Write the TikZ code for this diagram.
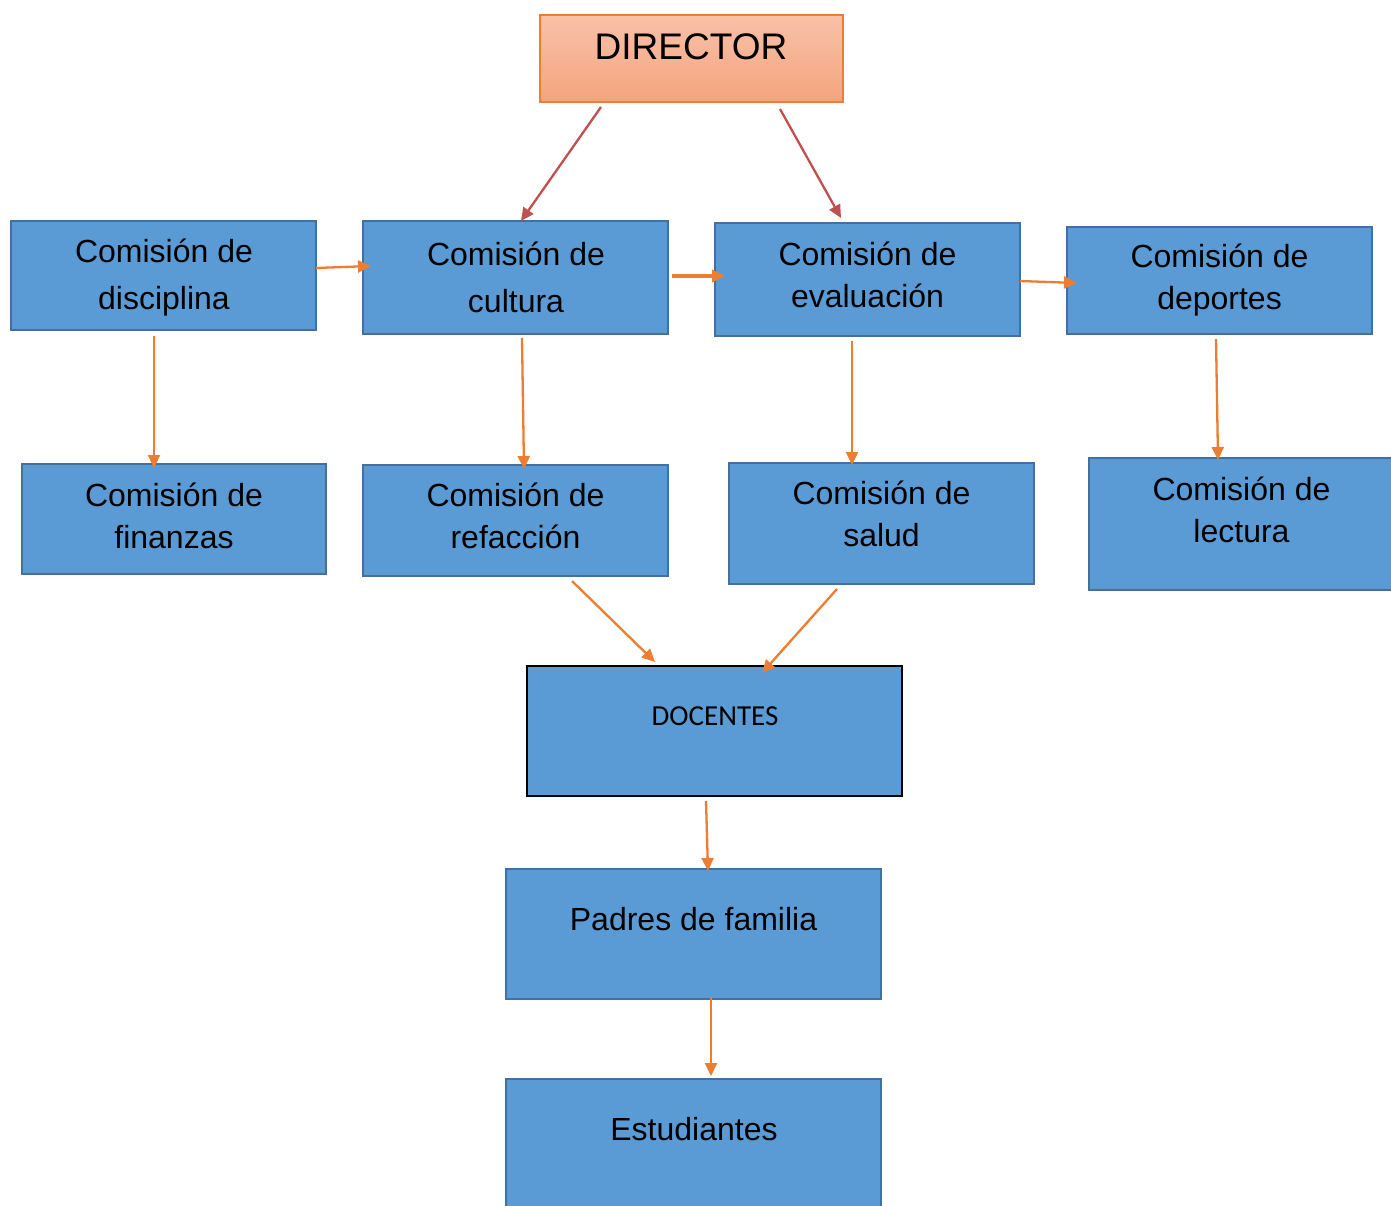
\documentclass[tikz,border=0pt]{standalone}
\usepackage{fontspec}
\setmainfont{Liberation Sans}
\newfontfamily\calib{Carlito}
\usetikzlibrary{arrows.meta,calc}
\definecolor{boxfill}{HTML}{5B9BD5}
\definecolor{boxline}{HTML}{41719C}
\definecolor{orangeln}{HTML}{ED7D31}
\definecolor{redln}{HTML}{C0504D}
\definecolor{dirtop}{HTML}{F8C1A9}
\definecolor{dirbot}{HTML}{F4A47D}
\begin{document}
\begin{tikzpicture}[x=1pt,y=-1pt,
  box/.style={draw=boxline, line width=2.2pt, fill=boxfill, inner sep=0pt, outer sep=0pt},
  dirbox/.style={draw=orangeln, line width=1.2pt, top color=dirtop, bottom color=dirbot, inner sep=0pt, outer sep=0pt},
  docbox/.style={draw=black, line width=2.5pt, fill=boxfill, inner sep=0pt, outer sep=0pt},
  txtA/.style={align=center, inner sep=0pt, font=\fontsize{32}{47}\selectfont},
  txtB/.style={align=center, inner sep=0pt, font=\fontsize{32}{42}\selectfont},
  arr/.style={draw=orangeln, line width=2.3pt, -{Triangle[length=13pt,width=12pt]}},
  arrthick/.style={arr, line width=3.4pt},
  redarr/.style={draw=redln, line width=2.3pt, -{Triangle[length=13pt,width=12pt]}}
]
\useasboundingbox (0,0) rectangle (1391,1205);

% boxes
\node[dirbox, minimum width=303pt, minimum height=87pt] (dir) at (691.5,58.5) {};
\node[box, minimum width=305pt, minimum height=109pt] (disc) at (163.5,275.5) {};
\node[box, minimum width=305pt, minimum height=113pt] (cult) at (515.5,277.5) {};
\node[box, minimum width=305pt, minimum height=113pt] (eval) at (867.5,279.5) {};
\node[box, minimum width=305pt, minimum height=107pt] (dep) at (1219.5,280.5) {};
\node[box, minimum width=304pt, minimum height=110pt] (fin) at (174,519) {};
\node[box, minimum width=305pt, minimum height=111pt] (ref) at (515.5,520.5) {};
\node[box, minimum width=305pt, minimum height=121pt] (sal) at (881.5,523.5) {};
\node[box, minimum width=305pt, minimum height=132pt] (lec) at (1241.5,524) {};
\node[docbox, minimum width=375pt, minimum height=130pt] (doc) at (714.5,731) {};
\node[box, minimum width=375pt, minimum height=130pt] (pad) at (693.5,934) {};
\node[box, minimum width=375pt, minimum height=128pt] (est) at (693.5,1143) {};

% texts
\node[inner sep=0pt, font=\fontsize{37}{44}\selectfont] (tdir) at (691,47) {DIRECTOR};
\node[txtA] (tdisc) at (164,278) {Comisión de\\disciplina};
\node[txtA] (tcult) at (516,277) {Comisión de\\cultura};
\node[txtB] (teval) at (867.5,274.5) {Comisión de\\evaluación};
\node[txtB] (tdep) at (1219.5,280.5) {Comisión de\\deportes};
\node[txtB] (tfin) at (174,516) {Comisión de\\finanzas};
\node[txtB] (tref) at (515.5,516) {Comisión de\\refacción};
\node[txtB] (tsal) at (881.5,514) {Comisión de\\salud};
\node[txtB] (tlec) at (1241.5,509.5) {Comisión de\\lectura};
\node[inner sep=0pt, font=\calib\fontsize{29}{34}\selectfont] (tdoc) at (715,716) {DOCENTES};
\node[inner sep=0pt, font=\fontsize{32}{38}\selectfont] (tpad) at (693.5,919) {Padres de familia};
\node[inner sep=0pt, font=\fontsize{32}{38}\selectfont] (test) at (694,1129) {Estudiantes};

% connectors
\draw[redarr] ($(dir.south)+(-90.5,5)$) -- ($(cult.north)+(5.5,0)$);
\draw[redarr] ($(dir.south)+(88.5,7)$) -- ($(eval.north)+(-26.5,-5)$);
\draw[arr] ($(disc.east)+(0,-7.5)$) -- ($(cult.west)+(8,-11.5)$);
\draw[arrthick] ($(cult.east)+(4,-1.5)$) -- ($(eval.west)+(10,-3.5)$);
\draw[arr] ($(eval.east)+(0,1.5)$) -- ($(dep.west)+(10,2.5)$);
\draw[arr] ($(disc.south)+(-9.5,6)$) -- ($(fin.north)+(-20,4)$);
\draw[arr] ($(cult.south)+(6.5,4)$) -- ($(ref.north)+(8.5,4)$);
\draw[arr] ($(eval.south)+(-15.5,5)$) -- ($(sal.north)+(-29.5,2)$);
\draw[arr] ($(dep.south)+(-3.5,5)$) -- ($(lec.north)+(-23.5,2)$);
\draw[arr] ($(ref.south)+(56.5,5)$) -- ($(doc.north)+(-59.5,-4)$);
\draw[arr] ($(sal.south)+(-44.5,5)$) -- ($(doc.north)+(47.5,7)$);
\draw[arr] ($(doc.south)+(-8.5,5)$) -- ($(pad.north)+(14.5,2)$);
\draw[arr] ($(pad.south)+(17.5,-2)$) -- ($(est.north)+(17.5,-3)$);
\end{tikzpicture}
\end{document}
